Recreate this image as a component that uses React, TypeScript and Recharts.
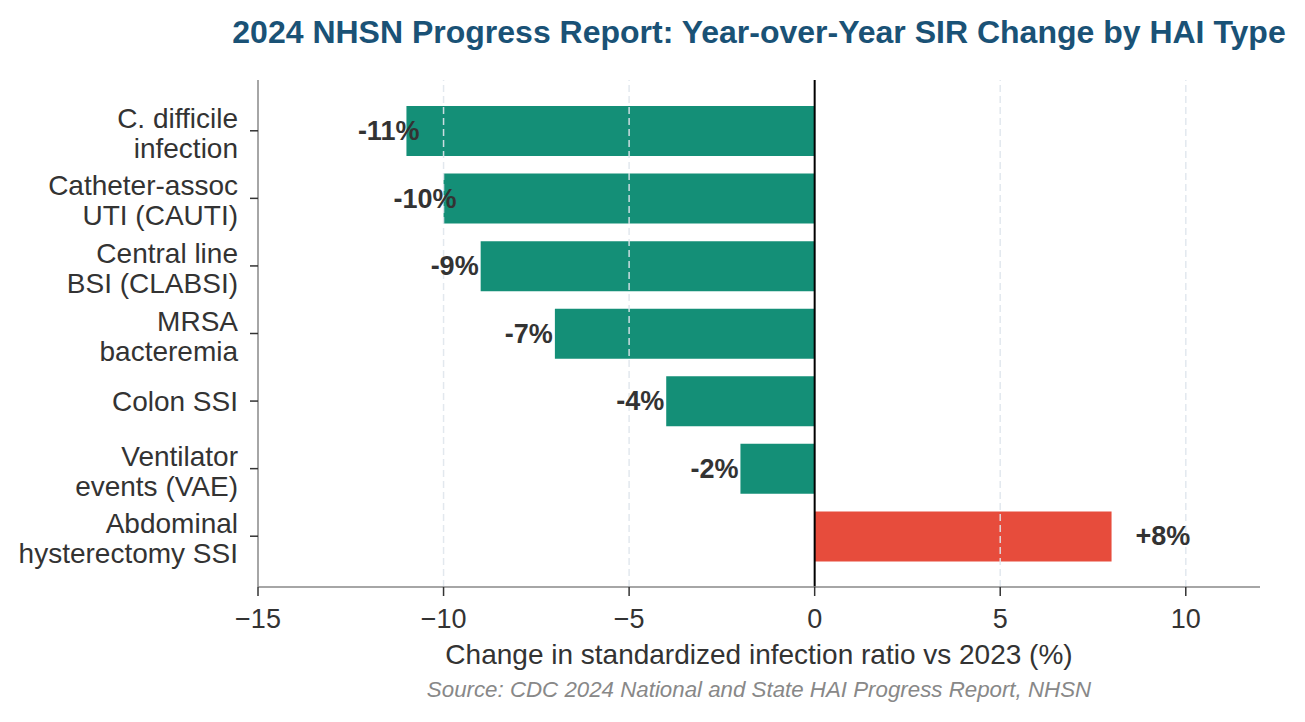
import React from 'react';
import { BarChart, Bar, XAxis, YAxis, Cell, LabelList, ReferenceLine } from 'recharts';

const categories = [
  'C. difficile\ninfection',
  'Catheter-assoc\nUTI (CAUTI)',
  'Central line\nBSI (CLABSI)',
  'MRSA\nbacteremia',
  'Colon SSI',
  'Ventilator\nevents (VAE)',
  'Abdominal\nhysterectomy SSI',
];
const sirChange = [-11, -10, -9, -7, -4, -2, 8];
const xTicks = [-15, -10, -5, 0, 5, 10];
const gridTicks = [-10, -5, 5, 10];

const FONT = '"Liberation Sans", Arial, Helvetica, sans-serif';
const TEAL = '#148f77';
const RED = '#e74c3c';

const data = categories.map((name, i) => ({ name, value: sirChange[i] }));

const CategoryTick = (props: any) => {
  const { x, y, payload } = props;
  const lines = String(payload.value).split('\n');
  const startY = lines.length === 1 ? y + 10 : y - 3;
  return (
    <text x={x} y={startY} textAnchor="end" fill="#333" fontSize={28} fontFamily={FONT}>
      {lines.map((l, i) => (
        <tspan key={i} x={x} dy={i === 0 ? 0 : 30}>{l}</tspan>
      ))}
    </text>
  );
};

const ValueLabel = (props: any) => {
  const { x, y, width, height, value } = props;
  const left = Math.min(x, x + width);
  const right = Math.max(x, x + width);
  const cy = y + height / 2 + 9;
  if (value >= 0) {
    return (
      <text x={right + 24} y={cy} textAnchor="start" fill="#333" fontSize={27} fontWeight="bold" fontFamily={FONT}>
        +{value}%
      </text>
    );
  }
  // the two widest labels sit a little into the bar
  const end = value <= -10 ? left + 13 : left - 2;
  return (
    <text x={end} y={cy} textAnchor="end" fill="#333" fontSize={27} fontWeight="bold" fontFamily={FONT}>
      {value}%
    </text>
  );
};

const centered: React.CSSProperties = {
  position: 'absolute',
  left: 759,
  transform: 'translateX(-50%)',
  whiteSpace: 'nowrap',
};

const App: React.FC = () => {
  return (
    <div style={{ position: 'relative', width: 1305, height: 722, fontFamily: FONT, background: '#fff' }}>
      <style>{'body{margin:0}'}</style>
      <div style={{ ...centered, top: 14, fontSize: 32, fontWeight: 'bold', color: '#1a5276' }}>
        2024 NHSN Progress Report: Year-over-Year SIR Change by HAI Type
      </div>
      <BarChart
        layout="vertical"
        width={1305}
        height={722}
        data={data}
        margin={{ top: 80, right: 45, bottom: 105, left: 0 }}
      >
        <XAxis
          type="number"
          domain={[-15, 12]}
          ticks={xTicks}
          allowDataOverflow
          height={30}
          tickSize={9}
          tickMargin={13}
          tickFormatter={(v: number) => String(v).replace('-', '\u2212')}
          tick={{ fill: '#333', fontSize: 27, fontFamily: FONT }}
          axisLine={{ stroke: '#888', strokeWidth: 1.5 }}
          tickLine={{ stroke: '#333', strokeWidth: 1.5 }}
        />
        <YAxis
          type="category"
          dataKey="name"
          width={258}
          padding={{ top: 17, bottom: 17 }}
          tickSize={8}
          tickMargin={12}
          tick={<CategoryTick />}
          axisLine={{ stroke: '#888', strokeWidth: 1.5 }}
          tickLine={{ stroke: '#333', strokeWidth: 1.5 }}
          interval={0}
        />
        <Bar dataKey="value" barSize={50} isAnimationActive={false}>
          {data.map((d, i) => (
            <Cell key={i} fill={d.value < 0 ? TEAL : RED} />
          ))}
          <LabelList dataKey="value" content={<ValueLabel />} />
        </Bar>
        {gridTicks.map((t) => (
          <ReferenceLine key={t} x={t} stroke="#dfe5ec" strokeOpacity={0.9} strokeWidth={1.5} strokeDasharray="7 4" />
        ))}
        <ReferenceLine x={0} stroke="#000" strokeWidth={2} />
      </BarChart>
      <div style={{ ...centered, top: 639, fontSize: 28, color: '#333' }}>
        Change in standardized infection ratio vs 2023 (%)
      </div>
      <div style={{ ...centered, top: 677, fontSize: 22.3, fontStyle: 'italic', color: '#888' }}>
        Source: CDC 2024 National and State HAI Progress Report, NHSN
      </div>
    </div>
  );
};

export default App;
